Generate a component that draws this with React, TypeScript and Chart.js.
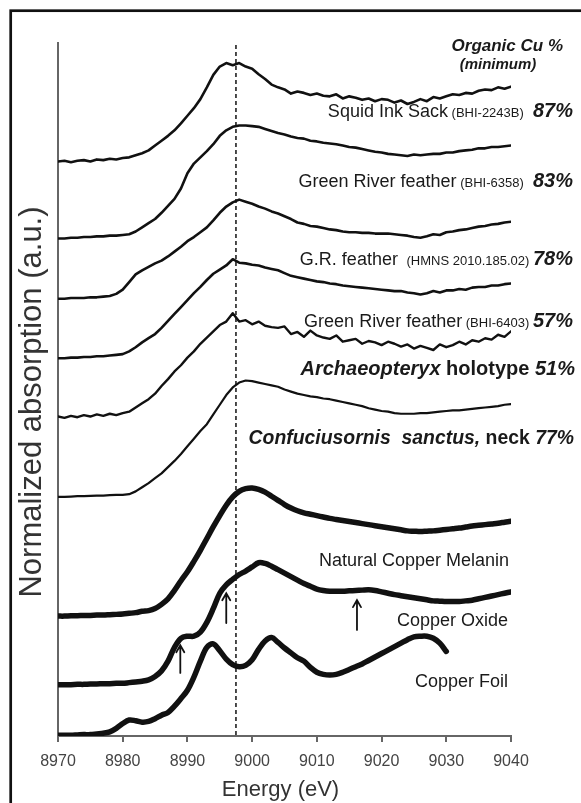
import React, { useEffect, useRef } from 'react';
import { Chart, registerables } from 'chart.js';

Chart.register(...registerables);

const ENERGY = [
  8970, 8971, 8972, 8973, 8974, 8975, 8976, 8977, 8978, 8979,
  8980, 8981, 8982, 8983, 8984, 8985, 8986, 8987, 8988, 8989,
  8990, 8991, 8992, 8993, 8994, 8995, 8996, 8997, 8998, 8999,
  9000, 9001, 9002, 9003, 9004, 9005, 9006, 9007, 9008, 9009,
  9010, 9011, 9012, 9013, 9014, 9015, 9016, 9017, 9018, 9019,
  9020, 9021, 9022, 9023, 9024, 9025, 9026, 9027, 9028, 9029,
  9030, 9031, 9032, 9033, 9034, 9035, 9036, 9037, 9038, 9039,
  9040,
];

const SQUID_INK = [
  82.9, 83.0, 82.8, 83.0, 83.1, 82.9, 83.2, 83.1, 83.3, 83.2,
  83.4, 83.5, 83.8, 84.1, 84.5, 85.2, 85.9, 86.6, 87.4, 88.4,
  89.5, 90.6, 91.9, 93.6, 95.4, 96.6, 97.1, 96.8, 97.1, 96.6,
  96.3, 95.5, 94.8, 94.0, 93.6, 93.3, 92.7, 93.0, 92.8, 92.5,
  92.7, 92.4, 92.3, 92.6, 92.0, 92.3, 92.1, 91.8, 92.0, 91.6,
  91.9, 91.8, 91.4, 91.7, 91.2, 91.5, 91.9, 91.6, 92.2, 92.0,
  92.3, 92.6, 92.5, 92.8, 92.7, 93.1, 93.3, 93.2, 93.6, 93.4,
  93.7,
];

const GR_BHI6358 = [
  71.8, 71.8, 71.9, 71.9, 72.0, 72.0, 72.1, 72.1, 72.2, 72.2,
  72.3, 72.4, 72.8, 73.4, 74.0, 74.6, 75.5, 76.5, 77.5, 79.0,
  81.2, 82.6, 83.5, 84.4, 85.4, 86.6, 87.4, 87.9, 88.1, 88.1,
  88.0, 87.9, 87.6, 87.3, 87.0, 86.8, 86.5, 86.3, 86.2, 85.9,
  85.8, 85.6, 85.5, 85.4, 85.2, 85.0, 84.9, 84.7, 84.5, 84.3,
  84.2, 84.0, 83.9, 83.8, 83.7, 83.9, 83.8, 83.9, 84.0, 84.0,
  84.2, 84.2, 84.4, 84.5, 84.6, 84.8, 84.8, 85.0, 85.0, 85.1,
  85.2,
];

const GR_HMNS = [
  63.1, 63.1, 63.2, 63.2, 63.2, 63.3, 63.3, 63.4, 63.5, 63.8,
  64.4, 65.5, 66.6, 67.2, 67.7, 68.2, 68.6, 69.2, 69.9, 70.6,
  71.4, 72.0, 72.7, 73.4, 74.4, 75.5, 76.4, 77.0, 77.4, 77.1,
  76.8, 76.4, 76.1, 75.7, 75.4, 75.0, 74.6, 74.1, 73.9, 73.6,
  73.5, 73.3, 73.1, 73.0, 72.8, 72.7, 72.7, 72.6, 72.6, 72.5,
  72.5, 72.5, 72.4, 72.3, 72.2, 72.0, 71.9, 72.1, 72.4, 72.3,
  72.7, 72.8, 73.0, 73.1, 73.3, 73.5, 73.6, 73.8, 73.9, 74.1,
  74.2,
];

const GR_BHI6403 = [
  54.5, 54.5, 54.6, 54.6, 54.7, 54.7, 54.8, 54.8, 54.9, 55.0,
  55.1, 55.5, 56.1, 56.8, 57.4, 58.0, 58.9, 59.9, 60.9, 61.9,
  62.9, 63.9, 64.8, 65.8, 66.7, 67.3, 67.9, 68.8, 68.3, 68.2,
  68.0, 67.9, 67.6, 67.4, 67.2, 66.8, 66.4, 66.2, 66.0, 65.8,
  65.6, 65.5, 65.3, 65.2, 65.0, 64.9, 64.8, 64.7, 64.6, 64.5,
  64.4, 64.3, 64.2, 64.2, 64.0, 63.9, 63.7, 63.9, 64.2, 64.0,
  64.3, 64.3, 64.5, 64.4, 64.7, 64.8, 64.8, 65.0, 65.0, 65.2,
  65.3,
];

const ARCHAEOPTERYX = [
  46.1, 45.9, 46.2, 46.0, 46.3, 46.1, 46.4, 46.2, 46.5, 46.3,
  46.6, 46.8, 47.4, 48.0, 48.6, 49.4, 50.5, 51.5, 52.6, 53.5,
  54.6, 55.5, 56.6, 57.5, 58.4, 59.3, 59.8, 61.0, 59.8, 60.0,
  59.4, 59.8, 59.2, 59.0, 58.9, 59.1, 58.0, 58.3, 57.6, 58.5,
  57.8, 57.5, 57.3, 57.8, 56.9, 57.1, 57.3, 56.6, 57.0, 56.8,
  56.4, 56.9, 56.6, 56.2, 56.5, 55.9, 56.3, 56.0, 55.7, 56.5,
  56.1, 56.4, 56.9, 56.5, 57.1, 56.9, 57.4, 57.2, 57.9, 57.6,
  58.4,
];

const CONFUCIUSORNIS = [
  34.5, 34.5, 34.55, 34.6, 34.6, 34.65, 34.7, 34.7, 34.75, 34.8,
  34.8, 34.9, 35.3, 35.9, 36.5, 37.2, 37.9, 38.8, 39.7, 40.7,
  41.8, 42.9, 44.0, 45.0, 46.4, 47.8, 49.2, 50.3, 51.0, 51.3,
  51.2, 51.0, 50.8, 50.6, 50.4, 50.0, 49.7, 49.4, 49.2, 49.0,
  48.9, 48.7, 48.6, 48.4, 48.2, 48.0, 47.8, 47.6, 47.3, 47.1,
  46.9, 46.8, 46.6, 46.5, 46.5, 46.5, 46.6, 46.6, 46.7, 46.8,
  46.9, 47.0, 47.0, 47.1, 47.2, 47.3, 47.4, 47.5, 47.6, 47.8,
  47.9,
];

const COPPER_MELANIN = [
  17.3, 17.3, 17.35, 17.35, 17.4, 17.4, 17.45, 17.45, 17.5, 17.55,
  17.6, 17.7, 17.8, 18.0, 18.1, 18.4, 19.0, 19.8, 21.0, 22.4,
  23.7, 25.2, 26.8, 28.5, 30.2, 31.8, 33.3, 34.5, 35.3, 35.7,
  35.8, 35.6, 35.2, 34.6, 34.0, 33.4, 32.9, 32.5, 32.2, 32.0,
  31.8, 31.6, 31.4, 31.25, 31.1, 30.95, 30.8, 30.65, 30.5, 30.35,
  30.2, 30.05, 29.9, 29.75, 29.6, 29.55, 29.5, 29.55, 29.6, 29.7,
  29.8, 29.9, 30.0, 30.15, 30.3, 30.4, 30.5, 30.6, 30.7, 30.85,
  31.0,
];

const COPPER_OXIDE = [
  7.4, 7.4, 7.4, 7.45, 7.45, 7.5, 7.5, 7.55, 7.55, 7.6,
  7.6, 7.7, 7.8, 7.9, 8.1, 8.6, 9.4, 10.8, 12.8, 14.1,
  14.4, 14.4, 15.0, 16.4, 18.4, 20.6, 21.8, 22.6, 23.3, 23.8,
  24.4, 25.0, 24.9, 24.5, 24.0, 23.5, 23.0, 22.5, 22.0, 21.6,
  21.2, 21.0, 20.9, 20.9, 20.9, 20.95, 21.0, 21.05, 21.1, 21.0,
  20.8, 20.6, 20.4, 20.25, 20.1, 19.95, 19.8, 19.65, 19.5, 19.45,
  19.4, 19.4, 19.4, 19.5, 19.6, 19.8, 20.0, 20.2, 20.4, 20.6,
  20.8,
];

// Copper foil spectrum stops at 9030 eV
const COPPER_FOIL = [
  0.1, 0.1, 0.1, 0.15, 0.2, 0.2, 0.3, 0.4, 0.6, 1.1,
  1.8, 2.3, 2.2, 2.0, 2.1, 2.5, 3.0, 3.4, 4.3, 5.4,
  6.6, 8.5, 10.8, 12.8, 13.3, 12.3, 11.1, 10.3, 10.0, 10.2,
  11.0, 12.5, 13.7, 14.2, 13.5, 12.7, 12.0, 11.3, 10.8, 9.9,
  9.2, 8.9, 8.8, 8.9, 9.2, 9.6, 10.0, 10.4, 10.9, 11.4,
  11.9, 12.4, 12.9, 13.4, 13.9, 14.3, 14.4, 14.4, 14.1, 13.4,
  12.2,
];

const SERIES_NAMES = [
  'Squid Ink Sack (BHI-2243B)',
  'Green River feather (BHI-6358)',
  'G.R. feather (HMNS 2010.185.02)',
  'Green River feather (BHI-6403)',
  'Archaeopteryx holotype',
  'Confuciusornis sanctus, neck',
  'Natural Copper Melanin',
  'Copper Oxide',
  'Copper Foil',
];
const SERIES_VALUES = [
  SQUID_INK, GR_BHI6358, GR_HMNS, GR_BHI6403, ARCHAEOPTERYX,
  CONFUCIUSORNIS, COPPER_MELANIN, COPPER_OXIDE, COPPER_FOIL,
];

const X_TICKS = [8970, 8980, 8990, 9000, 9010, 9020, 9030, 9040];
const EDGE_REFERENCE = 8997.5;

// arrows: energy, tail value, tip value
const ARROW_ENERGY = [8988.9, 8996.0, 9016.2];
const ARROW_TAIL = [9.1, 16.3, 15.3];
const ARROW_TIP = [13.1, 20.6, 19.6];

// label segments: [text, style]
const LABELS: [string, string][][] = [
  [['Squid Ink Sack', 'r'], [' (BHI-2243B) ', 's'], [' 87%', 'bi']],
  [['Green River feather', 'r'], [' (BHI-6358) ', 's'], [' 83%', 'bi']],
  [['G.R. feather ', 'r'], [' (HMNS 2010.185.02) ', 's'], ['78%', 'bi']],
  [['Green River feather', 'r'], [' (BHI-6403) ', 's'], ['57%', 'bi']],
  [['Archaeopteryx', 'bi'], [' holotype ', 'b'], ['51%', 'bi']],
  [['Confuciusornis  sanctus,', 'bi2'], [' neck ', 'b2'], ['77%', 'bi2']],
  [['Natural Copper Melanin', 'r']],
  [['Copper Oxide', 'r']],
  [['Copper Foil', 'r']],
];
const HEADER = ['Organic Cu %', '(minimum)'];
const X_TITLE = 'Energy (eV)';
const Y_TITLE = 'Normalized absorption (a.u.)';

const FAM = '"Liberation Sans", Arial, sans-serif';
const FONTS: Record<string, string> = {
  r: `18px ${FAM}`,
  s: `13px ${FAM}`,
  bi: `italic bold 20px ${FAM}`,
  b: `bold 20px ${FAM}`,
  bi2: `italic bold 19.4px ${FAM}`,
  b2: `bold 19.4px ${FAM}`,
};

export default function App() {
  const ref = useRef<HTMLCanvasElement | null>(null);

  useEffect(() => {
    const canvas = ref.current;
    if (!canvas) return;

    const widths = [2.6, 2.6, 2.6, 2.6, 2.4, 2.2, 5.5, 5.5, 5.5];
    const datasets = SERIES_VALUES.map((vals, i) => ({
      label: SERIES_NAMES[i],
      data: vals.map((v, j) => ({ x: ENERGY[j], y: v })),
      borderColor: '#111',
      backgroundColor: '#111',
      borderWidth: widths[i],
      pointRadius: 0,
      tension: i >= 6 ? 0.35 : 0,
      borderJoinStyle: 'round' as const,
      borderCapStyle: 'round' as const,
      fill: false,
    }));

    const overlay = {
      id: 'overlay',
      beforeDatasetsDraw(chart: any) {
        const { ctx, chartArea, scales } = chart;
        const x = scales.x.getPixelForValue(EDGE_REFERENCE);
        ctx.save();
        ctx.strokeStyle = '#111';
        ctx.lineWidth = 1.5;
        ctx.setLineDash([4, 3]);
        ctx.beginPath();
        ctx.moveTo(x, chartArea.top + 2);
        ctx.lineTo(x, chartArea.bottom);
        ctx.stroke();
        ctx.restore();
      },
      afterDraw(chart: any) {
        const { ctx, scales, chartArea } = chart;
        ctx.save();
        // figure frame
        ctx.strokeStyle = '#111';
        ctx.lineWidth = 2.7;
        ctx.strokeRect(10.7, 10.7, 700, 900);

        // arrows
        ctx.lineWidth = 1.8;
        ctx.lineCap = 'round';
        ARROW_ENERGY.forEach((e, i) => {
          const x = scales.x.getPixelForValue(e);
          const y0 = scales.y.getPixelForValue(ARROW_TAIL[i]);
          const y1 = scales.y.getPixelForValue(ARROW_TIP[i]);
          ctx.beginPath();
          ctx.moveTo(x, y0);
          ctx.lineTo(x, y1);
          ctx.moveTo(x - 4, y1 + 7);
          ctx.lineTo(x, y1);
          ctx.lineTo(x + 4, y1 + 7);
          ctx.stroke();
        });

        // labels
        const layout = [
          [573, 110], [573, 180], [573, 258], [573, 320], [575, 368],
          [574, 437], [509, 559], [508, 619], [508, 680],
        ];
        ctx.fillStyle = '#1a1a1a';
        ctx.textBaseline = 'alphabetic';
        ctx.textAlign = 'left';
        LABELS.forEach((segs, i) => {
          let x = layout[i][0];
          const base = layout[i][1] + 6.5;
          for (let k = segs.length - 1; k >= 0; k--) {
            const [text, style] = segs[k];
            ctx.font = FONTS[style];
            const w = ctx.measureText(text).width;
            x -= w;
            ctx.fillText(text, x, base);
          }
        });

        // header
        ctx.textAlign = 'right';
        ctx.font = `italic bold 17px ${FAM}`;
        ctx.fillText(HEADER[0], 563, 51);
        ctx.textAlign = 'center';
        ctx.font = `italic bold 15px ${FAM}`;
        ctx.fillText(HEADER[1], 498, 68.5);

        // axis titles
        ctx.fillStyle = '#333';
        ctx.textBaseline = 'middle';
        ctx.font = `22px ${FAM}`;
        ctx.fillText(X_TITLE, (chartArea.left + chartArea.right) / 2 - 4, 790);
        ctx.translate(32, 402);
        ctx.rotate(-Math.PI / 2);
        ctx.font = `31px ${FAM}`;
        ctx.fillText(Y_TITLE, 0, 0);
        ctx.restore();
      },
    };

    const chart = new Chart(canvas, {
      type: 'line',
      data: { datasets },
      options: {
        animation: false,
        responsive: false,
        devicePixelRatio: 1,
        layout: { padding: { left: 0, right: 70, top: 43, bottom: 0 } },
        plugins: { legend: { display: false }, tooltip: { enabled: false } },
        scales: {
          x: {
            type: 'linear',
            min: 8970,
            max: 9040,
            afterFit: (s: any) => { s.height = 67; },
            afterBuildTicks: (s: any) => { s.ticks = X_TICKS.map((v) => ({ value: v })); },
            ticks: {
              font: { size: 16, family: FAM },
              color: '#444',
              padding: 10,
              maxRotation: 0,
              callback: (v: any) => String(v),
            },
            grid: {
              display: true,
              drawOnChartArea: false,
              drawTicks: true,
              tickLength: 6,
              color: '#666',
              lineWidth: 2,
            },
            border: { display: true, color: '#666', width: 2 },
          },
          y: {
            type: 'linear',
            min: 0,
            max: 100,
            afterFit: (s: any) => { s.width = 58; },
            ticks: { display: false },
            grid: { display: false },
            border: { display: true, color: '#666', width: 2 },
          },
        },
      },
      plugins: [overlay],
    });

    return () => chart.destroy();
  }, []);

  return (
    <div style={{ position: 'fixed', left: 0, top: 0, width: 581, height: 803, background: '#fff' }}>
      <canvas ref={ref} width={581} height={803} style={{ display: 'block' }} />
    </div>
  );
}
